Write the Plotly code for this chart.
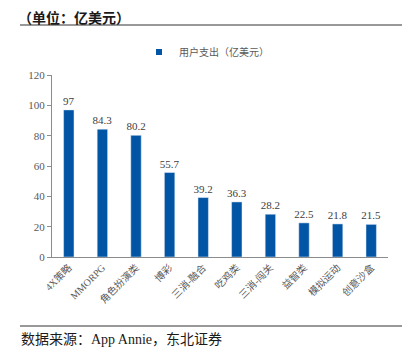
import plotly.graph_objects as go

categories = ["4X策略", "MMORPG", "角色扮演类", "博彩", "三消-融合", "吃鸡类", "三消-闯关", "益智类", "模拟运动", "创意沙盒"]
values = [97, 84.3, 80.2, 55.7, 39.2, 36.3, 28.2, 22.5, 21.8, 21.5]
series_name = "用户支出（亿美元）"
y_ticks = [0, 20, 40, 60, 80, 100, 120]

BLUE = "#0255A5"
AXIS = "#8C8C8C"
SERIF = "Liberation Serif, Times New Roman, Noto Sans CJK SC, serif"
CJK = "Noto Sans CJK SC, sans-serif"

# page offset of the html body (default 8px margin)
OFF = 8
W, H = 413 - OFF, 356 - OFF
L, R, T, B = 52 - OFF, 388 - OFF, 75 - OFF, 257 - OFF  # plot area in figure px
PW, PH = R - L, B - T


def px_x(x):  # page x -> paper
    return (x - OFF - L) / PW


def px_y(y):  # page y -> paper
    return (B - (y - OFF)) / PH


fig = go.Figure()
fig.add_trace(go.Bar(
    x=categories, y=values, marker_color=BLUE, width=0.31,
    text=[f"{v:g}" for v in values], textposition="outside",
    constraintext="none",
    textfont=dict(family=SERIF, size=11, color="#404040"),
    cliponaxis=False, showlegend=False,
))
# legend entry (small square marker)
fig.add_trace(go.Scatter(
    x=[None], y=[None], mode="markers", name=series_name,
    marker=dict(symbol="square", size=6, color=BLUE),
))

fig.update_layout(
    width=W, height=H,
    margin=dict(l=L, r=W - R, t=T, b=H - B, autoexpand=False),
    paper_bgcolor="white", plot_bgcolor="white",
    font=dict(family=SERIF, size=10, color="#595959"),
    showlegend=True,
    legend=dict(orientation="h", x=px_x(139), y=px_y(52), xanchor="left", yanchor="middle",
                font=dict(family=SERIF, size=10, color="#595959"),
                itemwidth=30, bgcolor="rgba(0,0,0,0)"),
    bargap=0.7,
    uniformtext=dict(mode=False),
)
fig.update_yaxes(range=[0, 120], tickvals=y_ticks, showgrid=False, zeroline=False,
                 showline=True, linecolor=AXIS, linewidth=1, automargin=False,
                 ticks="outside", ticklen=4, tickcolor=AXIS,
                 tickfont=dict(family=SERIF, size=11, color="#595959"))
fig.update_xaxes(showgrid=False, showline=True, linecolor=AXIS, linewidth=1,
                 ticks="", tickangle=-45, automargin=False,
                 tickfont=dict(family=SERIF, size=10, color="#595959"))

# header and footer
fig.add_annotation(xref="paper", yref="paper", x=px_x(17), y=px_y(16.5),
                   xanchor="left", yanchor="middle", showarrow=False, borderpad=0,
                   text="<b>（单位：亿美元）</b>", font=dict(family=CJK, size=14, color="#1a1a1a"))
fig.add_annotation(xref="paper", yref="paper", x=px_x(19), y=px_y(339),
                   xanchor="left", yanchor="middle", showarrow=False,
                   text="数据来源：App Annie，东北证券", font=dict(family=SERIF, size=14, color="#1a1a1a"))
fig.add_shape(type="line", xref="paper", yref="paper",
              x0=px_x(20), x1=px_x(402), y0=px_y(25), y1=px_y(25),
              line=dict(color="#333333", width=1))
fig.add_shape(type="line", xref="paper", yref="paper",
              x0=px_x(20), x1=px_x(402), y0=px_y(326), y1=px_y(326),
              line=dict(color="#333333", width=1))

fig.write_html("out.html")
